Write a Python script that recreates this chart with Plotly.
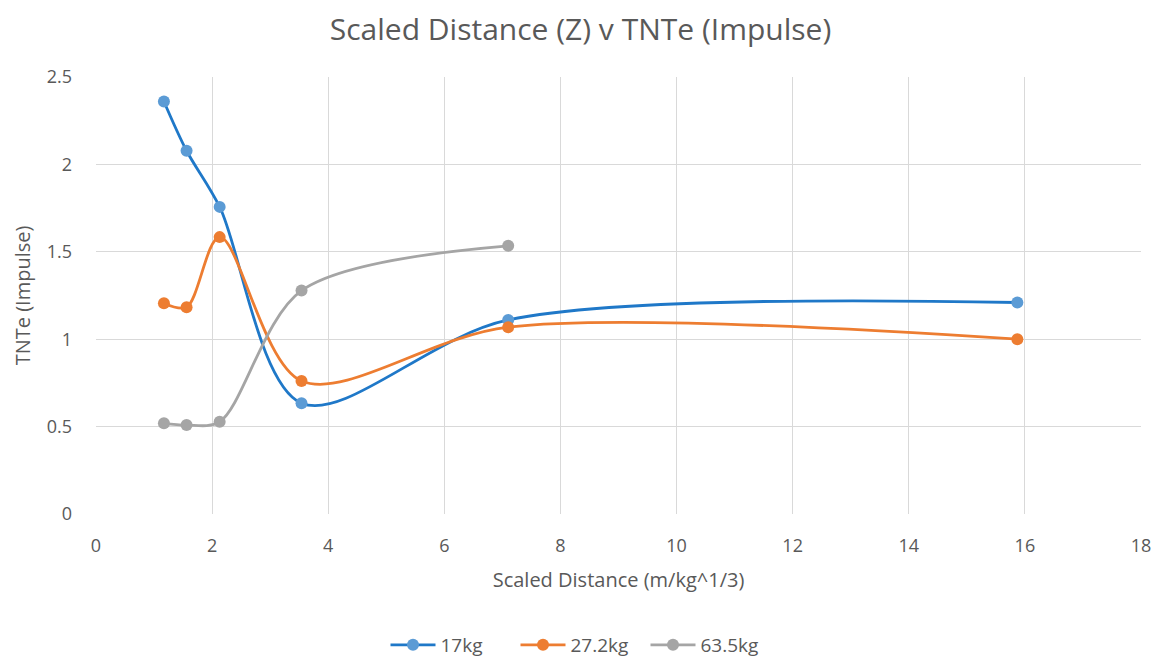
import plotly.graph_objects as go

z_values = [1.17, 1.56, 2.13, 3.54, 7.10, 15.87]
tnte_17kg = [2.36, 2.078, 1.757, 0.634, 1.11, 1.21]
tnte_27kg = [1.206, 1.183, 1.584, 0.761, 1.069, 1.0]
z_values_63 = [1.17, 1.56, 2.13, 3.54, 7.10]
tnte_63kg = [0.519, 0.509, 0.528, 1.278, 1.534]

series = [
    ("17kg", z_values, tnte_17kg, "#1F78C8", "#5B9BD5"),
    ("27.2kg", z_values, tnte_27kg, "#ED7D31", "#ED7D31"),
    ("63.5kg", z_values_63, tnte_63kg, "#A5A5A5", "#A5A5A5"),
]

fig = go.Figure()
for name, xs, ys, lc, mc in series:
    fig.add_trace(go.Scatter(
        x=xs, y=ys, name=name, mode="lines+markers",
        line=dict(color=lc, width=2.8, shape="spline", smoothing=0.9),
        marker=dict(color=mc, size=12),
    ))

font_fam = "Open Sans, Liberation Sans, sans-serif"
fig.update_layout(
    width=1161, height=658,
    paper_bgcolor="white", plot_bgcolor="white",
    margin=dict(l=96, r=20, t=77, b=144, autoexpand=False),
    title=dict(text="Scaled Distance (Z) v TNTe (Impulse)", x=0.5, xanchor="center",
               y=1 - 29 / 658, yanchor="middle",
               font=dict(family=font_fam, size=30, color="#595959")),
    font=dict(family=font_fam, color="#595959", size=18),
    showlegend=True,
    legend=dict(orientation="h", xref="container", x=0.5, xanchor="center",
                y=-(645 - 514) / 437, yanchor="middle",
                font=dict(size=19, color="#595959"), itemwidth=45,
                entrywidth=70, entrywidthmode="pixels"),
    xaxis=dict(range=[0, 18], dtick=2, tick0=0, showgrid=True, gridcolor="#D9D9D9",
               zeroline=False, showline=False, ticks="", ticklabelstandoff=19,
               title=dict(text="Scaled Distance (m/kg^1/3)", font=dict(size=20, color="#595959"), standoff=16),
               tickfont=dict(size=18, color="#595959")),
    yaxis=dict(range=[0, 2.5], dtick=0.5, tick0=0, showgrid=True, gridcolor="#D9D9D9",
               zeroline=False, showline=False, ticks="", ticklabelstandoff=23,
               title=dict(text="TNTe (Impulse)", font=dict(size=20, color="#595959"), standoff=10),
               tickfont=dict(size=18, color="#595959")),
)
fig.write_html("out.html")
